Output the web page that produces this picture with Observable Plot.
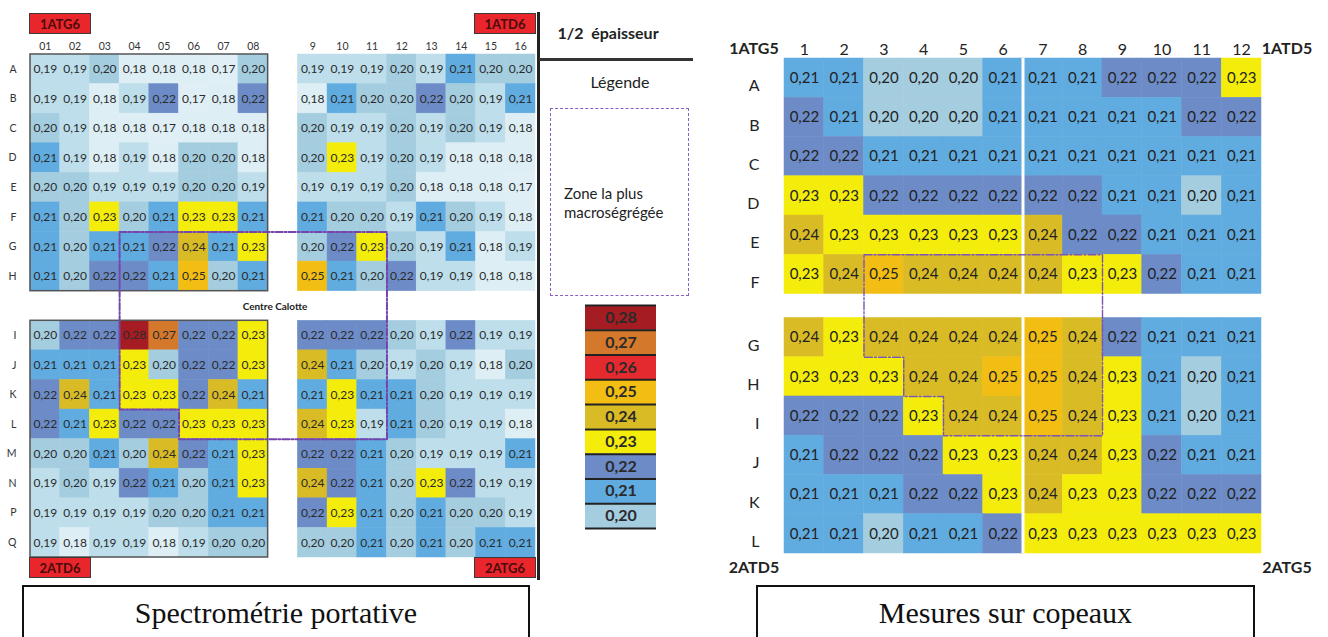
<!DOCTYPE html>
<html><head><meta charset="utf-8">
<script src="https://cdn.jsdelivr.net/npm/d3@7"></script>
<script src="https://cdn.jsdelivr.net/npm/@observablehq/plot@0.6"></script>
<style>
html,body{margin:0;padding:0;background:#fff;}
#root{position:relative;width:1328px;height:637px;overflow:hidden;font-family:Lato,"Open Sans",sans-serif;color:#222;}
#root svg{position:absolute;overflow:visible;}
.tag{position:absolute;background:#e8262b;border:1.5px solid #3a3a3a;box-sizing:border-box;font-weight:700;font-size:13px;color:#4b0b0b;display:flex;align-items:center;justify-content:center;}
.ctr{position:absolute;transform:translate(-50%,-50%);line-height:1;white-space:nowrap;}
.cap{position:absolute;border:2px solid #111;box-sizing:border-box;height:70px;}
.capt{position:absolute;font-family:"Liberation Serif","DejaVu Serif",serif;font-size:30px;line-height:30px;text-align:center;color:#111;}
</style></head><body><div id="root"></div>
<script>
// ---------- DATA ----------
const leftCols = ["01","02","03","04","05","06","07","08","9","10","11","12","13","14","15","16"];
const leftRows = ["A","B","C","D","E","F","G","H","I","J","K","L","M","N","P","Q"];
const leftValues = [
  [0.19,0.19,0.20,0.18,0.18,0.18,0.17,0.20, 0.19,0.19,0.19,0.20,0.19,0.21,0.20,0.20],
  [0.19,0.19,0.18,0.19,0.22,0.17,0.18,0.22, 0.18,0.21,0.20,0.20,0.22,0.20,0.19,0.21],
  [0.20,0.19,0.18,0.18,0.17,0.18,0.18,0.18, 0.20,0.19,0.19,0.20,0.19,0.20,0.19,0.18],
  [0.21,0.19,0.18,0.19,0.18,0.20,0.20,0.18, 0.20,0.23,0.19,0.20,0.19,0.18,0.18,0.18],
  [0.20,0.20,0.19,0.19,0.19,0.20,0.20,0.19, 0.19,0.19,0.19,0.20,0.18,0.18,0.18,0.17],
  [0.21,0.20,0.23,0.20,0.21,0.23,0.23,0.21, 0.21,0.20,0.20,0.19,0.21,0.20,0.19,0.18],
  [0.21,0.20,0.21,0.21,0.22,0.24,0.21,0.23, 0.20,0.22,0.23,0.20,0.19,0.21,0.18,0.19],
  [0.21,0.20,0.22,0.22,0.21,0.25,0.20,0.21, 0.25,0.21,0.20,0.22,0.19,0.19,0.18,0.18],
  [0.20,0.22,0.22,0.28,0.27,0.22,0.22,0.23, 0.22,0.22,0.22,0.20,0.19,0.22,0.19,0.19],
  [0.21,0.21,0.21,0.23,0.20,0.22,0.22,0.23, 0.24,0.21,0.20,0.19,0.20,0.19,0.18,0.20],
  [0.22,0.24,0.21,0.23,0.23,0.22,0.24,0.21, 0.21,0.23,0.21,0.21,0.20,0.19,0.19,0.19],
  [0.22,0.21,0.23,0.22,0.22,0.23,0.23,0.23, 0.24,0.23,0.19,0.21,0.20,0.19,0.19,0.18],
  [0.20,0.20,0.21,0.20,0.24,0.22,0.21,0.23, 0.22,0.22,0.21,0.20,0.19,0.19,0.19,0.21],
  [0.19,0.20,0.19,0.22,0.21,0.20,0.21,0.23, 0.24,0.22,0.21,0.20,0.23,0.22,0.19,0.19],
  [0.19,0.19,0.19,0.19,0.20,0.20,0.21,0.21, 0.22,0.23,0.21,0.20,0.21,0.20,0.20,0.19],
  [0.19,0.18,0.19,0.19,0.18,0.19,0.20,0.20, 0.20,0.20,0.21,0.20,0.21,0.20,0.21,0.21]
];
// zone outline: [column whose left edge, row whose top edge]
const zoneLeft = [["04","G"],["12","G"],["12","M"],["06","M"],["06","L"],["04","L"]];

const rightCols = ["1","2","3","4","5","6","7","8","9","10","11","12"];
const rightRows = ["A","B","C","D","E","F","G","H","I","J","K","L"];
const rightValues = [
  [0.21,0.21,0.20,0.20,0.20,0.21, 0.21,0.21,0.22,0.22,0.22,0.23],
  [0.22,0.21,0.20,0.20,0.20,0.21, 0.21,0.21,0.21,0.21,0.22,0.22],
  [0.22,0.22,0.21,0.21,0.21,0.21, 0.21,0.21,0.21,0.21,0.21,0.21],
  [0.23,0.23,0.22,0.22,0.22,0.22, 0.22,0.22,0.21,0.21,0.20,0.21],
  [0.24,0.23,0.23,0.23,0.23,0.23, 0.24,0.22,0.22,0.21,0.21,0.21],
  [0.23,0.24,0.25,0.24,0.24,0.24, 0.24,0.23,0.23,0.22,0.21,0.21],
  [0.24,0.23,0.24,0.24,0.24,0.24, 0.25,0.24,0.22,0.21,0.21,0.21],
  [0.23,0.23,0.23,0.24,0.24,0.25, 0.25,0.24,0.23,0.21,0.20,0.21],
  [0.22,0.22,0.22,0.23,0.24,0.24, 0.25,0.24,0.23,0.21,0.20,0.21],
  [0.21,0.22,0.22,0.22,0.23,0.23, 0.24,0.24,0.23,0.22,0.21,0.21],
  [0.21,0.21,0.21,0.22,0.22,0.23, 0.24,0.23,0.23,0.22,0.22,0.22],
  [0.21,0.21,0.20,0.21,0.21,0.22, 0.23,0.23,0.23,0.23,0.23,0.23]
];
const zoneRight = [["3","F"],["9","F"],["9","J"],["5","J"],["5","I"],["4","I"],["4","H"],["3","H"]];

const legendValues = [0.28,0.27,0.26,0.25,0.24,0.23,0.22,0.21,0.20];

// ---------- STYLE ----------
const paletteKeys   = ["0.17","0.18","0.19","0.20","0.21","0.22","0.23","0.24","0.25","0.26","0.27","0.28"];
const paletteColors = ["#e0eff6","#deeef5","#bddeea","#a4cde0","#60abdf","#6c8bc7","#f4ec0b","#d9bb26","#f3be13","#e42a2f","#d4782b","#a51d22"];
const colorScale = {type:"ordinal", domain: paletteKeys, range: paletteColors};
const fmt = v => v.toFixed(2).replace(".", ",");
const key = v => v.toFixed(2);

const root = document.getElementById("root");
function place(el, left, top){ el.style.left = left+"px"; el.style.top = top+"px"; root.appendChild(el); return el; }
function html(tag, cls, text){ const e = document.createElement(tag); if (cls) e.className = cls; if (text!=null) e.textContent = text; return e; }

// ---------- LEFT MAP ----------
const pos8 = i => i < 8 ? i : i + 1;
const leftCells = [];
leftRows.forEach((r, ri) => leftCols.forEach((c, ci) =>
  leftCells.push({row: r, col: c, xi: pos8(ci), yi: pos8(ri), v: leftValues[ri][ci]})));
const leftZonePts = zoneLeft.map(([c, r]) => ({x: pos8(leftCols.indexOf(c)), y: pos8(leftRows.indexOf(r))}));
const leftColTicks = leftCols.map((c, i) => pos8(i) + 0.5);
const leftRowTicks = leftRows.map((r, i) => pos8(i) + 0.5);
const leftBlocks = [{x1:0,x2:8,y1:0,y2:8},{x1:0,x2:8,y1:9,y2:17}];

const leftPlot = Plot.plot({
  width: 540, height: 585,
  marginLeft: 30, marginRight: 5, marginTop: 54, marginBottom: 28,
  x: {domain: [0, 17], axis: null},
  y: {domain: [0, 17], reverse: true, axis: null},
  color: colorScale,
  style: {fontFamily: "Lato, sans-serif", color: "#333", background: "transparent"},
  marks: [
    Plot.rect(leftCells, {x1: d => d.xi, x2: d => d.xi + 1, y1: d => d.yi, y2: d => d.yi + 1,
      fill: d => key(d.v), stroke: d => key(d.v), strokeWidth: 0.5}),
    Plot.text(leftCells, {x: d => d.xi + 0.5, y: d => d.yi + 0.5, text: d => fmt(d.v), fontSize: 12, fill: "#2b2b2b"}),
    Plot.rect(leftBlocks, {x1: "x1", x2: "x2", y1: "y1", y2: "y2", fill: "none", stroke: "#555", strokeWidth: 1.5}),
    Plot.line(leftZonePts, {x: "x", y: "y", curve: "linear-closed", stroke: "#7446ad", strokeWidth: 2, strokeDasharray: "7,2,2,2"}),
    Plot.axisX(leftColTicks, {anchor: "top", label: null, tickSize: 0, tickPadding: 5, fontSize: 10.5,
      tickFormat: t => leftCols[leftColTicks.indexOf(t)]}),
    Plot.axisY(leftRowTicks, {anchor: "left", label: null, tickSize: 0, tickPadding: 14, fontSize: 10.5,
      tickFormat: t => leftRows[leftRowTicks.indexOf(t)]})
  ]
});
place(leftPlot, 0, 0);

// tags
[["1ATG6", 29, 13], ["1ATD6", 474, 13], ["2ATD6", 29, 557], ["2ATG6", 474, 557]].forEach(([t, x, y]) => {
  const e = html("div", "tag", t); e.style.width = "62px"; e.style.height = "21px"; place(e, x, y);
});
const cc = html("div", "ctr", "Centre Calotte"); cc.style.fontWeight = "700"; cc.style.fontSize = "10px"; place(cc, 275, 306);

// separator lines
const vline = html("div"); vline.style.cssText = "position:absolute;width:3px;height:568px;background:#222;"; place(vline, 537, 12);
const hline = html("div"); hline.style.cssText = "position:absolute;width:154px;height:2.5px;background:#333;"; place(hline, 539, 58);

// ---------- LEGEND ----------
const t1 = html("div", "ctr", "1/2  épaisseur"); t1.style.fontWeight = "700"; t1.style.fontSize = "16px"; t1.style.whiteSpace = "pre"; place(t1, 608, 33);
const t2 = html("div", "ctr", "Légende"); t2.style.fontSize = "16px"; place(t2, 620, 82);
const zbox = html("div"); zbox.style.cssText = "position:absolute;width:139px;height:188px;border:1.5px dashed #8660c2;box-sizing:border-box;"; place(zbox, 550, 108);
const zt = html("div"); zt.innerHTML = "Zone la plus<br>macroségrégée"; zt.style.cssText = "position:absolute;font-size:15px;line-height:19px;color:#222;"; place(zt, 564, 184);

const legendData = legendValues.map((v, i) => ({v, i}));
const legendPlot = Plot.plot({
  width: 71, height: 223, margin: 0,
  x: {domain: [0, 1], axis: null},
  y: {domain: [0, legendValues.length], reverse: true, axis: null},
  color: colorScale,
  style: {fontFamily: "Lato, sans-serif", background: "transparent"},
  marks: [
    Plot.rect(legendData, {x1: 0, x2: 1, y1: d => d.i, y2: d => d.i + 1, fill: d => key(d.v)}),
    Plot.ruleY(d3.range(legendValues.length + 1), {stroke: "#222", strokeWidth: 2}),
    Plot.text(legendData, {x: 0.5, y: d => d.i + 0.5, text: d => fmt(d.v), fontSize: 16, fontWeight: 700, fill: "#2a2a2a"})
  ]
});
place(legendPlot, 585, 305);

// ---------- RIGHT MAP ----------
const gapR = 0.61;
const posR = i => i < 6 ? i : i + gapR;
const rightCells = [];
rightRows.forEach((r, ri) => rightCols.forEach((c, ci) =>
  rightCells.push({row: r, col: c, xi: ci, yi: posR(ri), v: rightValues[ri][ci]})));
const rightZonePts = zoneRight.map(([c, r]) => ({x: rightCols.indexOf(c), y: posR(rightRows.indexOf(r))}));
const rightColTicks = rightCols.map((c, i) => i + 0.5);
const rightRowTicks = rightRows.map((r, i) => posR(i) + 0.5);

const rightPlot = Plot.plot({
  width: 628, height: 600,
  marginLeft: 84, marginRight: 67, marginTop: 58, marginBottom: 47,
  x: {domain: [0, 12], axis: null},
  y: {domain: [0, 12 + gapR], reverse: true, axis: null},
  color: colorScale,
  style: {fontFamily: "Lato, sans-serif", color: "#222", background: "transparent"},
  marks: [
    Plot.rect(rightCells, {x1: d => d.xi, x2: d => d.xi + 1, y1: d => d.yi, y2: d => d.yi + 1,
      fill: d => key(d.v), stroke: d => key(d.v), strokeWidth: 0.5}),
    Plot.ruleX([6], {y1: 0, y2: 12 + gapR, stroke: "white", strokeWidth: 3}),
    Plot.text(rightCells, {x: d => d.xi + 0.5, y: d => d.yi + 0.5, text: d => fmt(d.v), fontSize: 15, fill: "#222"}),
    Plot.line(rightZonePts, {x: "x", y: "y", curve: "linear-closed", stroke: "#7a55b5", strokeWidth: 1.4, strokeDasharray: "8,2,2,2"}),
    Plot.axisX(rightColTicks, {anchor: "top", label: null, tickSize: 0, tickPadding: 4, fontSize: 16,
      tickFormat: t => rightCols[rightColTicks.indexOf(t)]}),
    Plot.axisY(rightRowTicks, {anchor: "left", label: null, tickSize: 0, tickPadding: 25, fontSize: 16, dy: 8,
      tickFormat: t => rightRows[rightRowTicks.indexOf(t)]})
  ]
});
place(rightPlot, 700, 0);

[["1ATG5", 754, 48], ["1ATD5", 1287, 48], ["2ATD5", 754, 567], ["2ATG5", 1287, 567]].forEach(([t, x, y]) => {
  const e = html("div", "ctr", t); e.style.fontWeight = "700"; e.style.fontSize = "16px"; place(e, x, y);
});

// ---------- CAPTIONS ----------
const c1 = html("div", "cap"); c1.style.width = "508px"; place(c1, 22, 585);
const c1t = html("div", "capt", "Spectrométrie portative"); c1t.style.width = "508px"; place(c1t, 22, 598);
const c2 = html("div", "cap"); c2.style.width = "499px"; place(c2, 756, 585);
const c2t = html("div", "capt", "Mesures sur copeaux"); c2t.style.width = "499px"; place(c2t, 756, 598);
</script></body></html>
